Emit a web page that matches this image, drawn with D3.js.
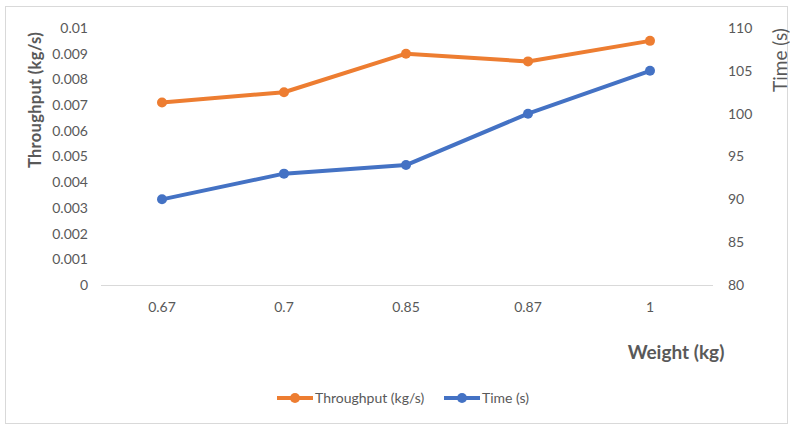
<!DOCTYPE html>
<html><head><meta charset="utf-8">
<script src="https://cdn.jsdelivr.net/npm/d3@7"></script>
<style>body{margin:0;background:#fff}svg{display:block}text{font-family:Lato,"Open Sans",sans-serif;fill:#595959}</style>
</head><body>
<script>
const categories = ["0.67","0.7","0.85","0.87","1"];
const throughput = [0.0071,0.0075,0.009,0.0087,0.0095];
const timeS = [90,93,94,100,105];
const leftTicks = [0,0.001,0.002,0.003,0.004,0.005,0.006,0.007,0.008,0.009,0.01];
const rightTicks = [80,85,90,95,100,105,110];

const W=790,H=426;
const FONT='Lato,"Open Sans",sans-serif';
const svg=d3.select("body").append("svg").attr("width",W).attr("height",H);
svg.append("rect").attr("x",5.5).attr("y",6.5).attr("width",782).attr("height",417).attr("fill","#fff").attr("stroke","#d9d9d9");

const x=d3.scaleBand().domain(categories).range([101,711]);
const yL=d3.scaleLinear().domain([0,0.01]).range([285,28]);
const yR=d3.scaleLinear().domain([80,110]).range([285,28]);

svg.append("line").attr("x1",101).attr("x2",713).attr("y1",285.5).attr("y2",285.5).attr("stroke","#d9d9d9").attr("stroke-width",1.2);

const fmtL=d=>d===0?"0":String(+d.toFixed(3));
function styleTicks(g){
  g.select(".domain").remove();
  g.selectAll("text").attr("font-size",14).attr("fill","#595959").style("font-family",FONT);
}
const gl=svg.append("g").attr("transform","translate(88,0)")
  .call(d3.axisLeft(yL).tickValues(leftTicks).tickFormat(fmtL).tickSize(0).tickPadding(0));
styleTicks(gl);
const gr=svg.append("g").attr("transform","translate(728,0)")
  .call(d3.axisRight(yR).tickValues(rightTicks).tickSize(0).tickPadding(0));
styleTicks(gr);
const gx=svg.append("g").attr("transform","translate(0,302)")
  .call(d3.axisBottom(x).tickSize(0).tickPadding(0));
styleTicks(gx);
gx.selectAll("text").attr("dy","0.71em");

svg.append("text").attr("transform","translate(41,100) rotate(-90)").attr("text-anchor","middle")
  .attr("font-size",16.5).attr("font-weight","bold").attr("letter-spacing",0.3).text("Throughput  (kg/s)");
svg.append("text").attr("transform","translate(787,60) rotate(-90)").attr("text-anchor","middle")
  .attr("font-size",19).text("Time (s)");
svg.append("text").attr("x",676).attr("y",359).attr("text-anchor","middle")
  .attr("font-size",19).attr("font-weight","bold").text("Weight (kg)");

const cx=d=>x(d)+x.bandwidth()/2;
function series(vals,y,color){
  const pts=categories.map((c,i)=>[cx(c),y(vals[i])]);
  svg.append("path").attr("d",d3.line()(pts)).attr("fill","none").attr("stroke",color).attr("stroke-width",4).attr("stroke-linejoin","round");
  svg.selectAll(null).data(pts).enter().append("circle").attr("cx",d=>d[0]).attr("cy",d=>d[1]).attr("r",5).attr("fill",color);
}
series(timeS,yR,"#4472C4");
series(throughput,yL,"#ED7D31");

const leg=[{name:"Throughput (kg/s)",color:"#ED7D31",x:277},{name:"Time (s)",color:"#4472C4",x:444}];
leg.forEach(l=>{
  svg.append("line").attr("x1",l.x).attr("x2",l.x+36).attr("y1",398).attr("y2",398).attr("stroke",l.color).attr("stroke-width",4);
  svg.append("circle").attr("cx",l.x+18).attr("cy",398).attr("r",5).attr("fill",l.color);
  svg.append("text").attr("x",l.x+38).attr("y",403).attr("font-size",14).text(l.name);
});
</script>
</body></html>
